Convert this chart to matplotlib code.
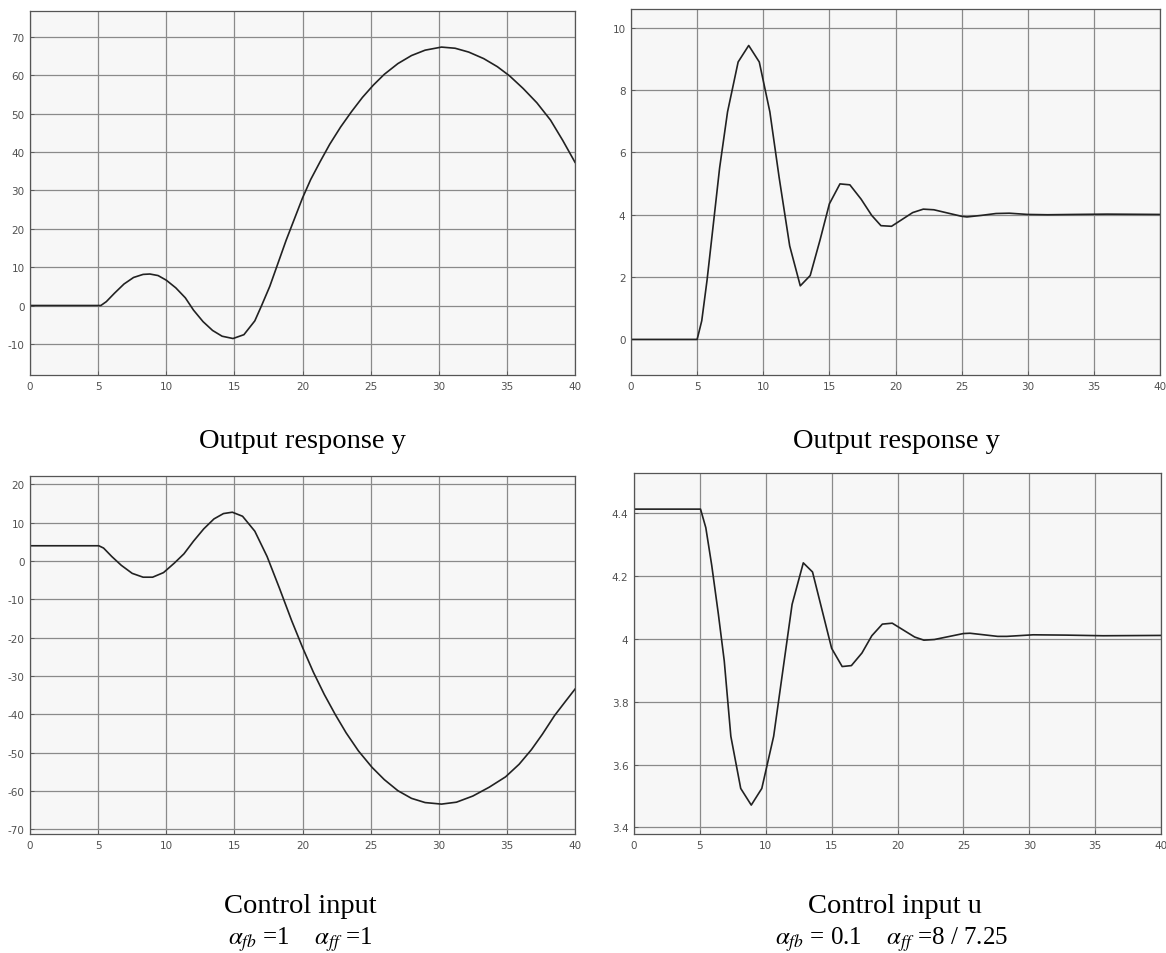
import numpy as np
import matplotlib.pyplot as plt
from matplotlib.ticker import FormatStrFormatter, MultipleLocator

# case 1 (alpha_fb = 1, alpha_ff = 1): output y
t_y1 = [0, 5.2, 5.6, 6.2, 6.9, 7.6, 8.3, 8.8, 9.4, 10.0, 10.7, 11.4, 12.0, 12.7,
        13.4, 14.1, 14.9, 15.7, 16.5, 17.0, 17.6, 18.2, 18.8, 19.4, 20.0, 20.6,
        21.3, 22.0, 22.8, 23.6, 24.4, 25.2, 26.0, 27.0, 28.0, 29.0, 30.2, 31.2,
        32.2, 33.3, 34.3, 35.2, 36.2, 37.2, 38.2, 39.1, 40]
y1 = [0, 0, 1.0, 3.2, 5.6, 7.3, 8.1, 8.2, 7.8, 6.6, 4.6, 2.0, -1.2, -4.2,
      -6.5, -8.0, -8.6, -7.6, -4.0, 0, 5, 11, 17, 22.5, 28, 32.8,
      37.5, 42, 46.5, 50.5, 54.2, 57.4, 60.2, 63, 65.1, 66.5, 67.3, 67.0,
      66.0, 64.3, 62.2, 59.8, 56.5, 52.8, 48.3, 43, 37.3]

# case 2 (alpha_fb = 0.1, alpha_ff = 8/7.25): output y
t_y2 = [0, 5.0, 5.35, 5.75, 6.2, 6.7, 7.3, 8.1, 8.9, 9.7, 10.5, 11.2, 12.0, 12.8,
        13.55, 14.3, 15.0, 15.8, 16.55, 17.4, 18.2, 18.9, 19.7, 20.5, 21.3, 22.1,
        22.9, 24.0, 25.0, 25.4, 26.5, 27.6, 28.6, 30.0, 31.5, 33.5, 36.0, 40]
y2 = [0, 0, 0.6, 1.9, 3.6, 5.5, 7.3, 8.9, 9.43, 8.9, 7.3, 5.2, 3.0, 1.72,
      2.05, 3.2, 4.35, 4.99, 4.96, 4.5, 3.98, 3.65, 3.63, 3.85, 4.07, 4.18,
      4.16, 4.05, 3.95, 3.93, 3.98, 4.04, 4.05, 4.01, 4.0, 4.01, 4.02, 4.01]

# case 1: control input u
t_u1 = [0, 5.05, 5.4, 6.0, 6.7, 7.5, 8.3, 9.0, 9.8, 10.6, 11.3, 12.0, 12.75, 13.5,
        14.2, 14.85, 15.6, 16.5, 17.4, 18.3, 19.2, 20.0, 20.8, 21.6, 22.4, 23.2,
        24.1, 25.1, 26.0, 27.0, 28.0, 29.0, 30.2, 31.3, 32.5, 33.7, 34.9, 35.9,
        36.8, 37.6, 38.5, 39.3, 40]
u1 = [4.0, 4.0, 3.4, 1.2, -1.1, -3.2, -4.2, -4.2, -3.0, -0.5, 1.9, 5.2, 8.4, 11.0,
      12.4, 12.75, 11.7, 7.8, 1.2, -7.0, -15.5, -22.5, -29, -34.8, -40, -44.8,
      -49.5, -53.8, -57, -59.9, -61.9, -63, -63.4, -62.9, -61.3, -59, -56.3, -53.0,
      -49.2, -45.2, -40.3, -36.6, -33.4]

# case 2: control input u
t_u2 = [0, 5.05, 5.45, 5.9, 6.4, 6.85, 7.35, 8.1, 8.9, 9.7, 10.6, 12.0, 12.85, 13.55,
        15.0, 15.8, 16.5, 17.3, 18.05, 18.85, 19.6, 21.3, 22.0, 22.8, 25.0, 25.5,
        27.6, 28.3, 30.3, 32.8, 35.6, 40]
u2 = [4.413, 4.413, 4.354, 4.234, 4.08, 3.93, 3.69, 3.524, 3.471, 3.524, 3.69, 4.11, 4.242, 4.213,
      3.97, 3.912, 3.915, 3.955, 4.01, 4.047, 4.05, 4.006, 3.996, 3.998, 4.017, 4.018,
      4.008, 4.008, 4.013, 4.012, 4.01, 4.011]

W, H = 1166, 954
fig = plt.figure(figsize=(W / 100, H / 100), dpi=100)


def px_axes(x0, x1, y0, y1):
    return fig.add_axes([x0 / W, 1 - y1 / H, (x1 - x0) / W, (y1 - y0) / H])


def style(ax, ylim, ystep, fmt):
    ax.set_facecolor('#f7f7f7')
    ax.set_xlim(0, 40)
    ax.set_ylim(*ylim)
    ax.xaxis.set_major_locator(MultipleLocator(5))
    ax.yaxis.set_major_locator(MultipleLocator(ystep))
    ax.yaxis.set_major_formatter(FormatStrFormatter(fmt))
    ax.grid(True, color='#8a8a8a', linewidth=0.9)
    ax.set_axisbelow(True)
    ax.tick_params(direction='in', length=3, width=0.6, labelsize=7.5,
                   labelcolor='#505050', color='#555555', pad=4)
    for s in ax.spines.values():
        s.set_color('#555555')
        s.set_linewidth(0.9)


ax1 = px_axes(30, 575, 12, 376)
ax1.plot(t_y1, y1, color='#222222', lw=1.2)
style(ax1, (-18.1, 76.7), 10, '%g')

ax2 = px_axes(631, 1160, 10, 376)
ax2.plot(t_y2, y2, color='#222222', lw=1.2)
style(ax2, (-1.14, 10.6), 2, '%g')

ax3 = px_axes(30, 575, 477, 835)
ax3.plot(t_u1, u1, color='#222222', lw=1.2)
style(ax3, (-71.2, 22.2), 10, '%g')

ax4 = px_axes(634, 1161, 474, 835)
ax4.plot(t_u2, u2, color='#222222', lw=1.2)
style(ax4, (3.379, 4.528), 0.2, '%g')

cap = dict(family='Liberation Serif', fontsize=20.5, ha='center', va='center')
fig.text(302 / W, 1 - 441 / H, 'Output response y', **cap)
fig.text(896 / W, 1 - 441 / H, 'Output response y', **cap)
fig.text(300 / W, 1 - 907 / H, 'Control input', **cap)
fig.text(895 / W, 1 - 907 / H, 'Control input u', **cap)

plt.rcParams['mathtext.fontset'] = 'stix'
sub = dict(family='Liberation Serif', fontsize=18, ha='center', va='center')
fig.text(300 / W, 1 - 940 / H, r'$\alpha_{fb}$ =1    $\alpha_{ff}$ =1', **sub)
fig.text(892 / W, 1 - 940 / H, r'$\alpha_{fb}$ = 0.1    $\alpha_{ff}$ =8 / 7.25', **sub)

fig.savefig('out.png', dpi=100)
